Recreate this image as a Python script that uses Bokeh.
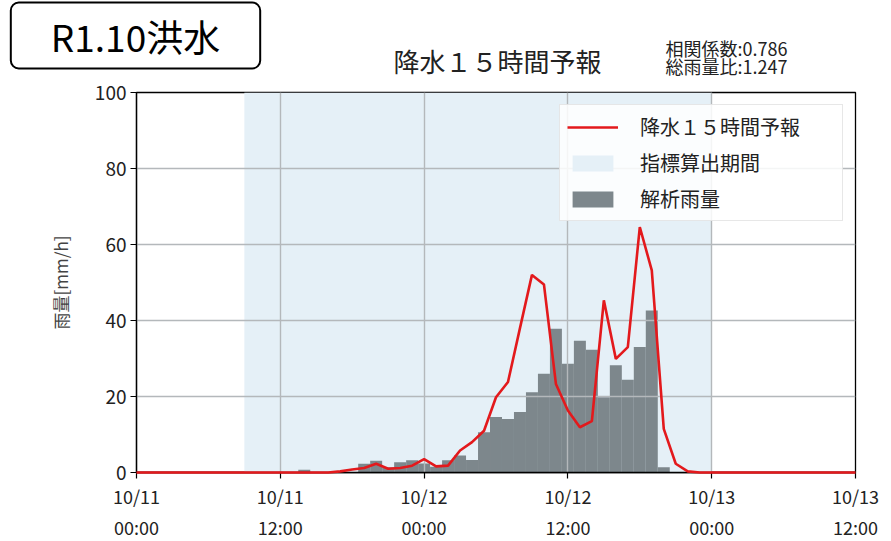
from bokeh.plotting import figure
from bokeh.layouts import column
from bokeh.models import Range1d, FixedTicker, Label, Legend, LegendItem
from bokeh.embed import file_html
from bokeh.resources import INLINE

# hours since 10/11 00:00
hours = [0, 1, 2, 3, 4, 5, 6, 7, 8, 9, 10, 11, 12, 13, 14, 15, 16, 17, 18, 19,
         20, 21, 22, 23, 24, 25, 26, 27, 28, 29, 30, 31, 32, 33, 34, 35, 36, 37, 38, 39,
         40, 41, 42, 43, 44, 45, 46, 47, 48, 49, 50, 51, 52, 53, 54, 55, 56, 57, 58, 59, 60]

# 降水１５時間予報 (mm/h)
fcst = [0, 0, 0, 0, 0, 0, 0, 0, 0, 0, 0, 0, 0, 0, 0, 0, 0, 0.3, 0.8, 1.2,
        2.3, 1.0, 1.2, 1.8, 3.5, 1.6, 1.8, 5.8, 8.0, 11.0, 19.8, 23.8, 38.0, 52.0, 49.5, 23.3, 16.3, 11.9, 13.5, 45.3,
        29.9, 33.0, 64.6, 53.2, 11.5, 2.3, 0.3, 0, 0, 0, 0, 0, 0, 0, 0, 0, 0, 0, 0, 0, 0]

# 解析雨量 (mm/h)
obs = [0, 0, 0, 0, 0, 0, 0, 0, 0, 0, 0, 0, 0, 0, 0.7, 0, 0, 0, 0, 2.3,
       3.1, 1.4, 2.7, 3.2, 2.4, 1.5, 3.2, 4.5, 3.3, 10.6, 14.6, 14.1, 15.9, 21.1, 26.0, 37.8, 28.6, 34.7, 32.3, 19.8,
       28.2, 24.4, 33.0, 42.6, 1.4, 0, 0, 0, 0, 0, 0, 0, 0, 0, 0, 0, 0, 0, 0, 0, 0]

# 指標算出期間
period_start = [9]
period_end = [48]

tick_hours = [0, 12, 24, 36, 48, 60]
tick_labels = ["10/11\n00:00", "10/11\n12:00", "10/12\n00:00",
               "10/12\n12:00", "10/13\n00:00", "10/13\n12:00"]
y_ticks = [0, 20, 40, 60, 80, 100]

badge_text = "R1.10洪水"
title_text = "降水１５時間予報"
stat_texts = ["相関係数:0.786", "総雨量比:1.247"]

FONT = "Noto Sans CJK JP"
W = 891
HEAD_H = 78

# ---------- header (badge, title, statistics) ----------
head = figure(width=W, height=HEAD_H, x_range=Range1d(0, W), y_range=Range1d(HEAD_H, 0),
              x_axis_type=None, y_axis_type=None, min_border=0,
              output_backend="svg", toolbar_location=None)
head.frame_align = False
head.outline_line_color = None
head.grid.visible = False
head.background_fill_color = "white"
head.border_fill_color = "white"

badge = Label(x=135, y=35, text=badge_text, text_font=FONT,
              text_font_size="37px", text_align="center", text_baseline="middle",
              text_color="black", background_fill_color="white",
              border_line_color="black", border_line_width=2, border_radius=8,
              padding=dict(left=40, right=40, top=6, bottom=6))
head.add_layout(badge)

title = Label(x=497, y=60, text=title_text, text_font=FONT,
              text_font_size="26px", text_align="center", text_baseline="middle",
              text_color="#222222")
head.add_layout(title)

for txt, yy in zip(stat_texts, [47, 65]):
    head.add_layout(Label(x=665, y=yy, text=txt, text_font=FONT,
                          text_font_size="18px", text_align="left", text_baseline="middle",
                          text_color="#222222"))

# ---------- main chart ----------
p = figure(width=W, height=541 - HEAD_H,
           frame_width=719, frame_height=380,
           min_border_left=136, min_border_right=36, min_border_top=92 - HEAD_H, min_border_bottom=69,
           x_range=Range1d(0, 60), y_range=Range1d(0, 100),
           output_backend="svg", toolbar_location=None)
p.frame_align = False
p.background_fill_color = "white"
p.border_fill_color = "white"
p.outline_line_color = "black"
p.outline_line_width = 1.3

band = p.quad(left=period_start, right=period_end, bottom=[0], top=[100],
              fill_color="#e5f0f7", line_color=None, level="image")
bars = p.vbar(x=hours, top=obs, width=1.0, fill_color="#7d878c", line_color=None,
              level="underlay")
line = p.line(hours, fcst, line_color="#e3191c", line_width=2.6, level="annotation")

p.xgrid.level = "glyph"
p.ygrid.level = "glyph"
p.grid.grid_line_color = "#b4b8bb"
p.grid.grid_line_width = 1.4

p.xaxis.ticker = FixedTicker(ticks=tick_hours)
p.xaxis.major_label_overrides = {h: l for h, l in zip(tick_hours, tick_labels)}
p.yaxis.ticker = FixedTicker(ticks=y_ticks)
p.xaxis.minor_tick_line_color = None
p.yaxis.minor_tick_line_color = None
for ax in (p.xaxis, p.yaxis):
    ax.axis_line_color = "black"
    ax.axis_line_width = 1.3
    ax.major_tick_line_color = "black"
    ax.major_tick_line_width = 1.2
    ax.major_tick_in = 0
    ax.major_tick_out = 6
    ax.major_label_text_font = FONT
    ax.major_label_text_color = "#222222"
p.xaxis.major_label_text_font_size = "18px"
p.yaxis.major_label_text_font_size = "19px"
p.xaxis.major_label_standoff = 4
p.yaxis.major_label_standoff = 4
p.yaxis.axis_label = "雨量[mm/h]"
p.yaxis.axis_label_text_font = FONT
p.yaxis.axis_label_text_font_size = "17px"
p.yaxis.axis_label_text_font_style = "normal"
p.yaxis.axis_label_standoff = 19

legend = Legend(items=[
    LegendItem(label="降水１５時間予報", renderers=[line]),
    LegendItem(label="指標算出期間", renderers=[band]),
    LegendItem(label="解析雨量", renderers=[bars]),
], location="top_right")
legend.margin = 12
legend.padding = 7
legend.spacing = 7
legend.glyph_width = 51
legend.glyph_height = 20
legend.label_height = 28
legend.label_width = 195
legend.label_standoff = 22
legend.label_text_font = FONT
legend.label_text_font_size = "20px"
legend.label_text_color = "#222222"
legend.border_line_color = "#d0d0d0"
legend.border_line_width = 1.2
legend.background_fill_color = "white"
legend.background_fill_alpha = 0.85
p.add_layout(legend)

layout = column(head, p, spacing=0)
open("out.html", "w").write(file_html(layout, INLINE))
